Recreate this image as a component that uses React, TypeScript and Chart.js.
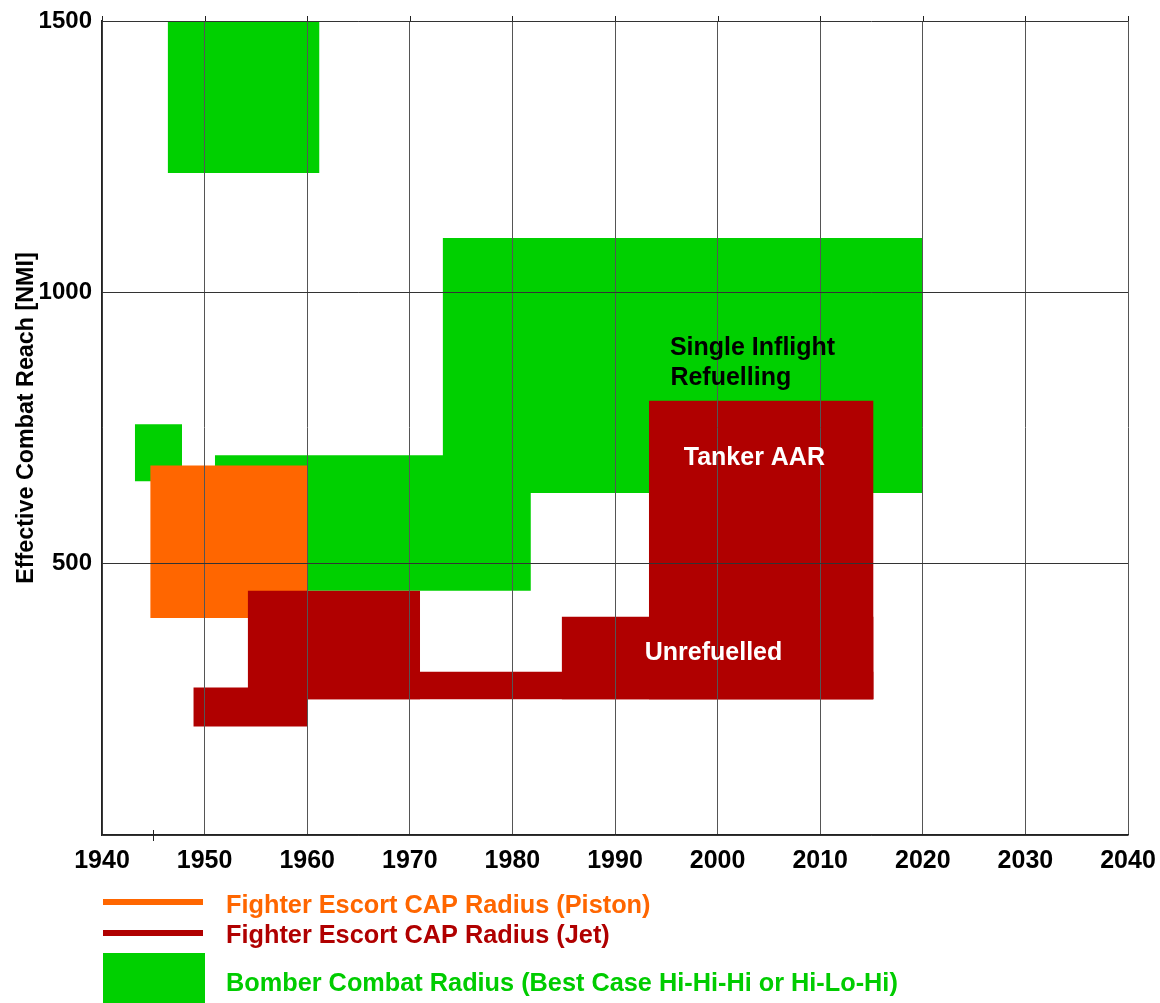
import React, { useEffect, useRef } from "react";
import { Chart, registerables } from "chart.js";

Chart.register(...registerables);

// ---- axes ----
const yearTicks = [1940, 1950, 1960, 1970, 1980, 1990, 2000, 2010, 2020, 2030, 2040];
const reachTicks = [0, 500, 1000, 1500];
const minorYearTick = 1945;

// ---- Bomber Combat Radius (green bands: start year, end year, low NMI, high NMI) ----
const bomberStart = [1946.4, 1943.2, 1951.0, 1973.2];
const bomberEnd = [1961.2, 1947.8, 1981.8, 2020.0];
const bomberLow = [1220, 652, 450, 630];
const bomberHigh = [1500, 757, 700, 1100];

// ---- Fighter Escort CAP Radius (Piston) ----
const pistonStart = [1944.7];
const pistonEnd = [1960.0];
const pistonLow = [400];
const pistonHigh = [681];

// ---- Fighter Escort CAP Radius (Jet) ----
const jetStart = [1948.9, 1954.2, 1960.0, 1984.8, 1993.3];
const jetEnd = [1960.0, 1971.0, 2015.2, 2015.2, 2015.2];
const jetLow = [200, 250, 250, 250, 250];
const jetHigh = [272, 450, 301, 402, 800];

// ---- annotations ----
const noteText = ["Single Inflight", "Refuelling", "Tanker AAR", "Unrefuelled"];
const noteYear = [1995.35, 1995.4, 1996.7, 1992.9];
const noteReach = [884, 829, 681, 322];
const noteColor = ["#000000", "#000000", "#ffffff", "#ffffff"];

// ---- legend ----
const legendLabels = [
  "Fighter Escort CAP Radius (Piston)",
  "Fighter Escort CAP Radius (Jet)",
  "Bomber Combat Radius (Best Case Hi-Hi-Hi or Hi-Lo-Hi)",
];

const yTitle = "Effective Combat Reach [NMI]";

const GREEN = "#00d000";
const ORANGE = "#ff6600";
const RED = "#b00000";
const FONT = "'Liberation Sans', Arial, Helvetica, sans-serif";

function bands(start: number[], end: number[], low: number[], high: number[], color: string, order: number) {
  return start.map((s, i) => ({
    data: [
      { x: s, y: high[i] },
      { x: end[i], y: high[i] },
    ],
    fill: { value: low[i] },
    backgroundColor: color,
    borderColor: color,
    borderWidth: 0,
    pointRadius: 0,
    pointHoverRadius: 0,
    order,
  }));
}

const overlayPlugin = {
  id: "overlay",
  afterDraw(chart: any) {
    const { ctx } = chart;
    const x = chart.scales.x;
    const y = chart.scales.y;
    ctx.save();
    // tick marks above the top border
    ctx.strokeStyle = "#222";
    ctx.lineWidth = 1;
    yearTicks.forEach((v) => {
      const px = Math.round(x.getPixelForValue(v)) + 0.5;
      ctx.beginPath();
      ctx.moveTo(px, y.top - 5);
      ctx.lineTo(px, y.top);
      ctx.stroke();
    });
    // minor tick at 1945
    const mx = Math.round(x.getPixelForValue(minorYearTick)) + 0.5;
    ctx.beginPath();
    ctx.moveTo(mx, y.bottom - 5);
    ctx.lineTo(mx, y.bottom + 6);
    ctx.stroke();

    // annotations
    ctx.font = `bold 25px ${FONT}`;
    ctx.textAlign = "left";
    ctx.textBaseline = "alphabetic";
    noteText.forEach((t, i) => {
      ctx.fillStyle = noteColor[i];
      ctx.fillText(t, x.getPixelForValue(noteYear[i]), y.getPixelForValue(noteReach[i]));
    });

    // y axis title
    ctx.save();
    ctx.translate(33, (y.top + y.bottom) / 2 - 10);
    ctx.rotate(-Math.PI / 2);
    ctx.textAlign = "center";
    ctx.fillStyle = "#000";
    ctx.font = `bold 23.3px ${FONT}`;
    ctx.fillText(yTitle, 0, 0);
    ctx.restore();

    // legend
    const lx = x.left + 1;
    ctx.fillStyle = ORANGE;
    ctx.fillRect(lx, 899, 100, 6);
    ctx.fillStyle = RED;
    ctx.fillRect(lx, 930, 100, 6);
    ctx.fillStyle = GREEN;
    ctx.fillRect(lx, 953, 102, 50);
    ctx.font = `bold 25.3px ${FONT}`;
    ctx.textAlign = "left";
    ctx.fillStyle = ORANGE;
    ctx.fillText(legendLabels[0], 226, 913);
    ctx.fillStyle = RED;
    ctx.fillText(legendLabels[1], 226, 943);
    ctx.fillStyle = "#00cc00";
    ctx.fillText(legendLabels[2], 226, 991);
    ctx.restore();
  },
};

export default function App() {
  const ref = useRef<HTMLCanvasElement>(null);
  useEffect(() => {
    const canvas = ref.current!;
    const datasets = [
      ...bands(jetStart, jetEnd, jetLow, jetHigh, RED, 0),
      ...bands(pistonStart, pistonEnd, pistonLow, pistonHigh, ORANGE, 1),
      ...bands(bomberStart, bomberEnd, bomberLow, bomberHigh, GREEN, 2),
    ];
    const chart = new Chart(canvas, {
      type: "line",
      data: { datasets: datasets as any },
      plugins: [overlayPlugin],
      options: {
        responsive: false,
        animation: false,
        events: [],
        layout: { padding: { top: 21, right: 32, left: 0, bottom: 0 } },
        plugins: { legend: { display: false }, tooltip: { enabled: false } },
        scales: {
          x: {
            type: "linear",
            min: 1940,
            max: 2040,
            afterBuildTicks: (s: any) => {
              s.ticks = yearTicks.map((v) => ({ value: v }));
            },
            afterFit: (s: any) => {
              s.height = 168;
              s.paddingLeft = 0;
              s.paddingRight = 0;
            },
            grid: { color: "#555555", lineWidth: 1, drawTicks: false, z: 1 },
            border: { color: "#222", width: 1.5, z: 1 },
            ticks: {
              z: 1,
              padding: 11,
              color: "#000",
              font: { family: FONT, size: 25, weight: "bold" },
              callback: (v: any) => String(v),
              maxRotation: 0,
              autoSkip: false,
            },
          },
          y: {
            type: "linear",
            min: 0,
            max: 1500,
            afterBuildTicks: (s: any) => {
              s.ticks = reachTicks.map((v) => ({ value: v }));
            },
            afterFit: (s: any) => {
              s.width = 102;
              s.paddingTop = 0;
              s.paddingBottom = 0;
            },
            grid: { color: "#333333", lineWidth: 1, drawTicks: false, z: 1 },
            border: { color: "#222", width: 1.5, z: 1 },
            ticks: {
              z: 1,
              padding: 10,
              color: "#000",
              font: { family: FONT, size: 24, weight: "bold" },
              callback: (v: any) => (v === 0 ? "" : String(v)),
              autoSkip: false,
            },
          },
        },
      } as any,
    });
    return () => chart.destroy();
  }, []);
  return (
    <div style={{ position: "absolute", left: 0, top: 0, width: 1160, height: 1003, background: "#fff" }}>
      <canvas ref={ref} width={1160} height={1003} style={{ display: "block", width: 1160, height: 1003 }} />
    </div>
  );
}
